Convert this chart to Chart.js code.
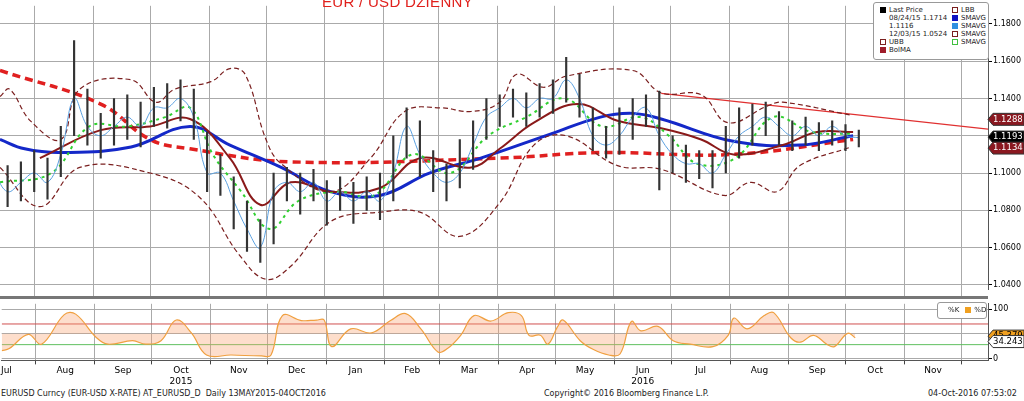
<!DOCTYPE html>
<html><head><meta charset="utf-8">
<script src="https://cdn.jsdelivr.net/npm/chart.js@4"></script>
<style>
body{margin:0;background:#fff;font-family:"DejaVu Sans",sans-serif;}
#wrap{position:relative;width:1024px;height:401px;overflow:hidden;}
canvas{position:absolute;left:0;}
#title{position:absolute;left:322px;top:-7px;color:#e0201c;font:15px "Liberation Sans",Arial;letter-spacing:0.3px;}
.box{position:absolute;border:1px solid #999;border-radius:3px;background:#fff;font-size:7px;color:#222;line-height:8px;white-space:nowrap;}
.sq{display:inline-block;width:6px;height:6px;margin-right:3px;vertical-align:-1px;}
.foot{position:absolute;top:389px;font-size:8px;color:#222;white-space:nowrap;}
#sep{position:absolute;left:0;top:296px;width:988px;height:3px;background:#777;}
</style></head><body>
<div id="wrap">
<canvas id="top" width="1024" height="297" style="top:0"></canvas>
<canvas id="bot" width="1024" height="90" style="top:298px"></canvas>
<div id="sep"></div>
<div id="title">EUR / USD DZIENNY</div>
<div class="box" style="left:873px;top:2px;width:114px;height:56px;">
 <div style="position:absolute;left:6px;top:3px">
  <div><span class="sq" style="background:#000"></span>Last Price</div>
  <div style="padding-left:9px">08/24/15 1.1714</div>
  <div style="padding-left:9px">1.1116</div>
  <div style="padding-left:9px">12/03/15 1.0524</div>
  <div><span class="sq" style="border:1px dashed #7a1f1f;width:4px;height:4px"></span>UBB</div>
  <div><span class="sq" style="background:#a01d2a"></span>BolMA</div>
 </div>
 <div style="position:absolute;left:78px;top:3px">
  <div><span class="sq" style="border:1px dashed #7a1f1f;width:4px;height:4px"></span>LBB</div>
  <div><span class="sq" style="background:#1010c0"></span>SMAVG</div>
  <div><span class="sq" style="background:#3090e0"></span>SMAVG</div>
  <div><span class="sq" style="border:1px dashed #7a1f1f;width:4px;height:4px"></span>SMAVG</div>
  <div><span class="sq" style="border:1px dashed #40c040;width:4px;height:4px"></span>SMAVG</div>
 </div>
</div>
<div class="box" style="left:937px;top:302px;width:48px;height:15px;line-height:15px;">
 <span style="margin-left:10px">%K</span><span class="sq" style="background:#f0a020;margin-left:6px"></span>%D
</div>
<div class="foot" style="left:1px">EURUSD Curncy (EUR-USD X-RATE) AT_EURUSD_D&nbsp; Daily 13MAY2015-04OCT2016</div>
<div class="foot" style="left:544px">Copyright© 2016 Bloomberg Finance L.P.</div>
<div class="foot" style="left:928px">04-Oct-2016 07:53:02</div>
</div>
<script>
// x axis = days since 1 Jul 2015
const monthStarts = [0,31,62,92,123,153,184,215,244,275,305,336,366,397,428,458,489,519];
const monthNames = ['Jul','Aug','Sep','Oct','Nov','Dec','Jan','Feb','Mar','Apr','May','Jun','Jul','Aug','Sep','Oct','Nov'];
const yearLabels = { 3: '2015', 11: '2016' };
const X_MIN = 13, X_MAX = 533;

// weekly bars (day = 10 + 7*i)
const closes = [1.100,1.090,1.095,1.100,1.095,1.110,1.140,1.125,1.120,1.125,1.130,1.125,1.135,1.135,1.140,1.130,1.100,1.100,1.085,1.070,1.060,1.090,1.095,1.090,1.095,1.085,1.090,1.085,1.090,1.085,1.100,1.125,1.110,1.100,1.095,1.100,1.115,1.130,1.135,1.140,1.135,1.140,1.140,1.150,1.140,1.120,1.115,1.120,1.130,1.135,1.120,1.110,1.105,1.105,1.100,1.110,1.120,1.125,1.130,1.125,1.120,1.125,1.120,1.125,1.120,1.119];
const highs = [1.112,1.104,1.106,1.112,1.108,1.125,1.171,1.145,1.132,1.140,1.142,1.138,1.146,1.148,1.150,1.145,1.122,1.110,1.098,1.085,1.075,1.100,1.103,1.100,1.102,1.096,1.098,1.095,1.098,1.100,1.120,1.135,1.128,1.112,1.105,1.118,1.128,1.140,1.142,1.145,1.143,1.148,1.150,1.162,1.153,1.135,1.125,1.135,1.140,1.142,1.144,1.120,1.115,1.112,1.112,1.125,1.135,1.137,1.138,1.133,1.128,1.130,1.127,1.128,1.126,1.123];
const lows = [1.088,1.082,1.085,1.090,1.086,1.098,1.120,1.115,1.108,1.115,1.118,1.114,1.125,1.124,1.128,1.118,1.090,1.088,1.070,1.058,1.052,1.062,1.085,1.078,1.085,1.072,1.080,1.073,1.080,1.075,1.085,1.108,1.098,1.090,1.085,1.092,1.102,1.118,1.125,1.130,1.125,1.130,1.132,1.138,1.130,1.112,1.108,1.110,1.118,1.125,1.091,1.100,1.095,1.097,1.092,1.100,1.108,1.115,1.120,1.115,1.112,1.115,1.112,1.115,1.112,1.114];

// indicator lines: [day, value]
const sma200 = [[13,1.155],[66,1.137],[92,1.118],[113,1.113],[166,1.106],[276,1.108],[329,1.111],[399,1.110],[462,1.118]];
const sma50 = [[13,1.118],[26,1.113],[45,1.111],[82,1.114],[113,1.125],[134,1.115],[161,1.103],[187,1.090],[213,1.088],[239,1.100],[266,1.108],[303,1.121],[329,1.130],[346,1.132],[361,1.129],[399,1.117],[434,1.115],[462,1.120]];
const bolMA = [[34,1.108],[66,1.123],[92,1.125],[113,1.129],[134,1.108],[150,1.083],[166,1.095],[187,1.090],[213,1.092],[234,1.108],[261,1.103],[276,1.113],[294,1.127],[317,1.137],[338,1.128],[361,1.124],[382,1.118],[399,1.110],[425,1.115],[443,1.122],[462,1.122]];
const upperBB = [[13,1.141],[18,1.145],[29,1.128],[45,1.118],[55,1.145],[82,1.150],[95,1.138],[105,1.145],[124,1.149],[134,1.156],[142,1.153],[153,1.118],[161,1.105],[187,1.090],[208,1.108],[226,1.133],[245,1.135],[261,1.133],[276,1.138],[285,1.153],[299,1.146],[311,1.152],[346,1.155],[361,1.143],[382,1.142],[396,1.127],[417,1.136],[425,1.138],[461,1.131]];
const lowerBB = [[13,1.103],[34,1.082],[55,1.103],[92,1.100],[118,1.087],[139,1.056],[153,1.043],[166,1.050],[187,1.074],[213,1.079],[234,1.079],[255,1.066],[276,1.084],[294,1.115],[311,1.120],[338,1.104],[361,1.102],[394,1.088],[408,1.095],[422,1.090],[434,1.104],[461,1.114]];
const smaShort = [[13,1.095],[40,1.100],[60,1.125],[80,1.125],[100,1.130],[113,1.135],[125,1.110],[140,1.090],[155,1.070],[170,1.085],[190,1.090],[210,1.088],[230,1.110],[250,1.100],[270,1.120],[290,1.130],[310,1.140],[330,1.125],[350,1.130],[365,1.120],[380,1.105],[400,1.108],[420,1.130],[440,1.122],[462,1.121]];
const trendLine = [[361,1.1427],[X_MAX,1.1236]];
const priceTicks = [1.04,1.06,1.08,1.10,1.12,1.14,1.16,1.18];
const priceTags = [[1.1288,'#8a1820','#fff'],[1.1193,'#000','#fff'],[1.1134,'#8a1820','#fff']];

// stochastic %D: [day, value]
const stochD = [[13,16],[17,20],[27,49],[34,29],[46,89],[52,90],[63,42],[69,29],[82,36],[89,29],[97,36],[105,78],[113,52],[121,7],[134,7],[150,5],[155,7],[161,87],[171,77],[179,78],[183,78],[187,24],[197,60],[208,52],[218,77],[226,91],[234,60],[243,13],[248,20],[255,47],[262,87],[271,76],[280,93],[287,87],[291,47],[297,47],[301,29],[306,64],[309,78],[318,36],[325,18],[333,7],[339,9],[345,75],[350,56],[359,65],[367,36],[376,29],[388,24],[396,47],[399,82],[406,60],[415,87],[420,93],[429,42],[434,33],[441,47],[448,29],[452,24],[459,51],[463,42]];
const stochLevels = [70, 28];
const stochTags = [[45.379,'#f0a020','#000'],[34.243,'#fff','#000']];

const pts = arr => arr.map(p => ({ x: p[0], y: p[1] }));
const grid = { color: '#aaa', borderDash: [1, 2], lineWidth: 1, offset: false };

function monthTicks(withMid) {
    return scale => {
        const t = monthStarts.map(v => ({ value: v }));
        if (withMid) monthStarts.slice(0, -1).forEach((v, i) => t.push({ value: (v + monthStarts[i + 1]) / 2, mid: i }));
        scale.ticks = t.filter(k => k.value >= X_MIN && k.value <= X_MAX || k.mid === 0).sort((a, b) => a.value - b.value);
    };
}
const isStart = v => monthStarts.includes(v);

function tagPlugin(tags, decimals) {
    return {
        id: 'tags',
        afterDraw(chart) {
            const c = chart.ctx, y = chart.scales.y, x0 = chart.chartArea.right;
            c.save();
            c.font = '8.5px "DejaVu Sans"';
            tags.forEach(([v, bg, fg]) => {
                const py = y.getPixelForValue(v);
                c.fillStyle = bg; c.strokeStyle = '#333';
                c.beginPath();
                c.moveTo(x0, py); c.lineTo(x0 + 5, py - 6); c.lineTo(1024, py - 6);
                c.lineTo(1024, py + 6); c.lineTo(x0 + 5, py + 6); c.closePath();
                c.fill(); c.stroke();
                c.fillStyle = fg; c.textBaseline = 'middle';
                c.fillText(v.toFixed(decimals), x0 + 5, py);
            });
            c.restore();
        }
    };
}

const lineDs = (data, color, width, dash) => ({
    type: 'line', data: pts(data), borderColor: color, borderWidth: width,
    borderDash: dash || [], pointRadius: 0, tension: 0.4, fill: false
});

new Chart(document.getElementById('top'), {
    data: {
        datasets: [
            { type: 'bar', data: closes.map((c, i) => ({ x: 10 + 7 * i, y: [lows[i], highs[i]] })),
              backgroundColor: '#333', barThickness: 1.5 },
            lineDs(closes.map((c, i) => [10 + 7 * i, c]), '#5aa0e0', 1),
            lineDs(upperBB, '#7a1f1f', 1.2, [5, 3]),
            lineDs(lowerBB, '#7a1f1f', 1.2, [5, 3]),
            lineDs(smaShort, '#30d030', 2, [3, 4]),
            lineDs(bolMA, '#8a1a1a', 2),
            lineDs(sma50, '#1428c8', 3),
            lineDs(sma200, '#e02020', 3.5, [8, 5]),
            { ...lineDs(trendLine, '#e03030', 1.3), tension: 0 }
        ]
    },
    options: {
        responsive: false, animation: false, devicePixelRatio: 1,
        layout: { padding: 0 },
        plugins: { legend: { display: false }, tooltip: { enabled: false } },
        scales: {
            x: { type: 'linear', offset: false, min: X_MIN, max: X_MAX, afterBuildTicks: monthTicks(false),
                 grid: grid, border: { display: false }, ticks: { display: false } },
            y: { position: 'right', min: 1.0378, max: 1.1897,
                 afterBuildTicks: s => { s.ticks = priceTicks.map(v => ({ value: v })); },
                 afterFit: s => { s.width = 36; },
                 grid: { ...grid, tickColor: '#000', tickLength: 4, tickBorderDash: [] },
                 border: { color: '#555' },
                 ticks: { color: '#000', font: { size: 8, family: 'DejaVu Sans' }, padding: 1,
                          callback: v => v.toFixed(4) } }
        }
    },
    plugins: [tagPlugin(priceTags, 4)]
});

new Chart(document.getElementById('bot'), {
    data: {
        datasets: [
            { ...lineDs(stochD, '#f0a040', 1.2), backgroundColor: 'rgba(250,160,110,0.35)', fill: { value: 50 } },
            { ...lineDs([[X_MIN, stochLevels[0]], [X_MAX, stochLevels[0]]], '#d05050', 1), tension: 0 },
            { ...lineDs([[X_MIN, stochLevels[1]], [X_MAX, stochLevels[1]]], '#60c060', 1), tension: 0 }
        ]
    },
    options: {
        responsive: false, animation: false, devicePixelRatio: 1,
        layout: { padding: 0 },
        plugins: { legend: { display: false }, tooltip: { enabled: false } },
        scales: {
            x: { type: 'linear', offset: false, min: X_MIN, max: X_MAX, afterBuildTicks: monthTicks(true),
                 grid: { ...grid, color: c => isStart(c.tick.value) ? '#aaa' : 'transparent',
                         tickColor: c => isStart(c.tick.value) ? '#444' : 'transparent', tickLength: 4, tickBorderDash: [] },
                 border: { color: '#555' },
                 ticks: { color: '#000', font: { size: 9, family: 'DejaVu Sans' }, maxRotation: 0, autoSkip: false, padding: 1,
                          callback: (v, i, ticks) => {
                              const t = ticks[i];
                              if (t.mid === undefined) return '';
                              return yearLabels[t.mid] ? [monthNames[t.mid], yearLabels[t.mid]] : monthNames[t.mid];
                          } } },
            y: { position: 'right', min: -4, max: 111,
                 afterBuildTicks: s => { s.ticks = [0, 50, 100].map(v => ({ value: v })); },
                 afterFit: s => { s.width = 36; },
                 grid: { ...grid, tickColor: c => c.tick.value === 50 ? 'transparent' : '#000', tickLength: 4, tickBorderDash: [] },
                 border: { color: '#555' },
                 ticks: { color: '#000', font: { size: 8, family: 'DejaVu Sans' }, padding: 1,
                          callback: v => v === 50 ? '' : v } }
        }
    },
    plugins: [tagPlugin(stochTags, 3)]
});
</script>
</body></html>
